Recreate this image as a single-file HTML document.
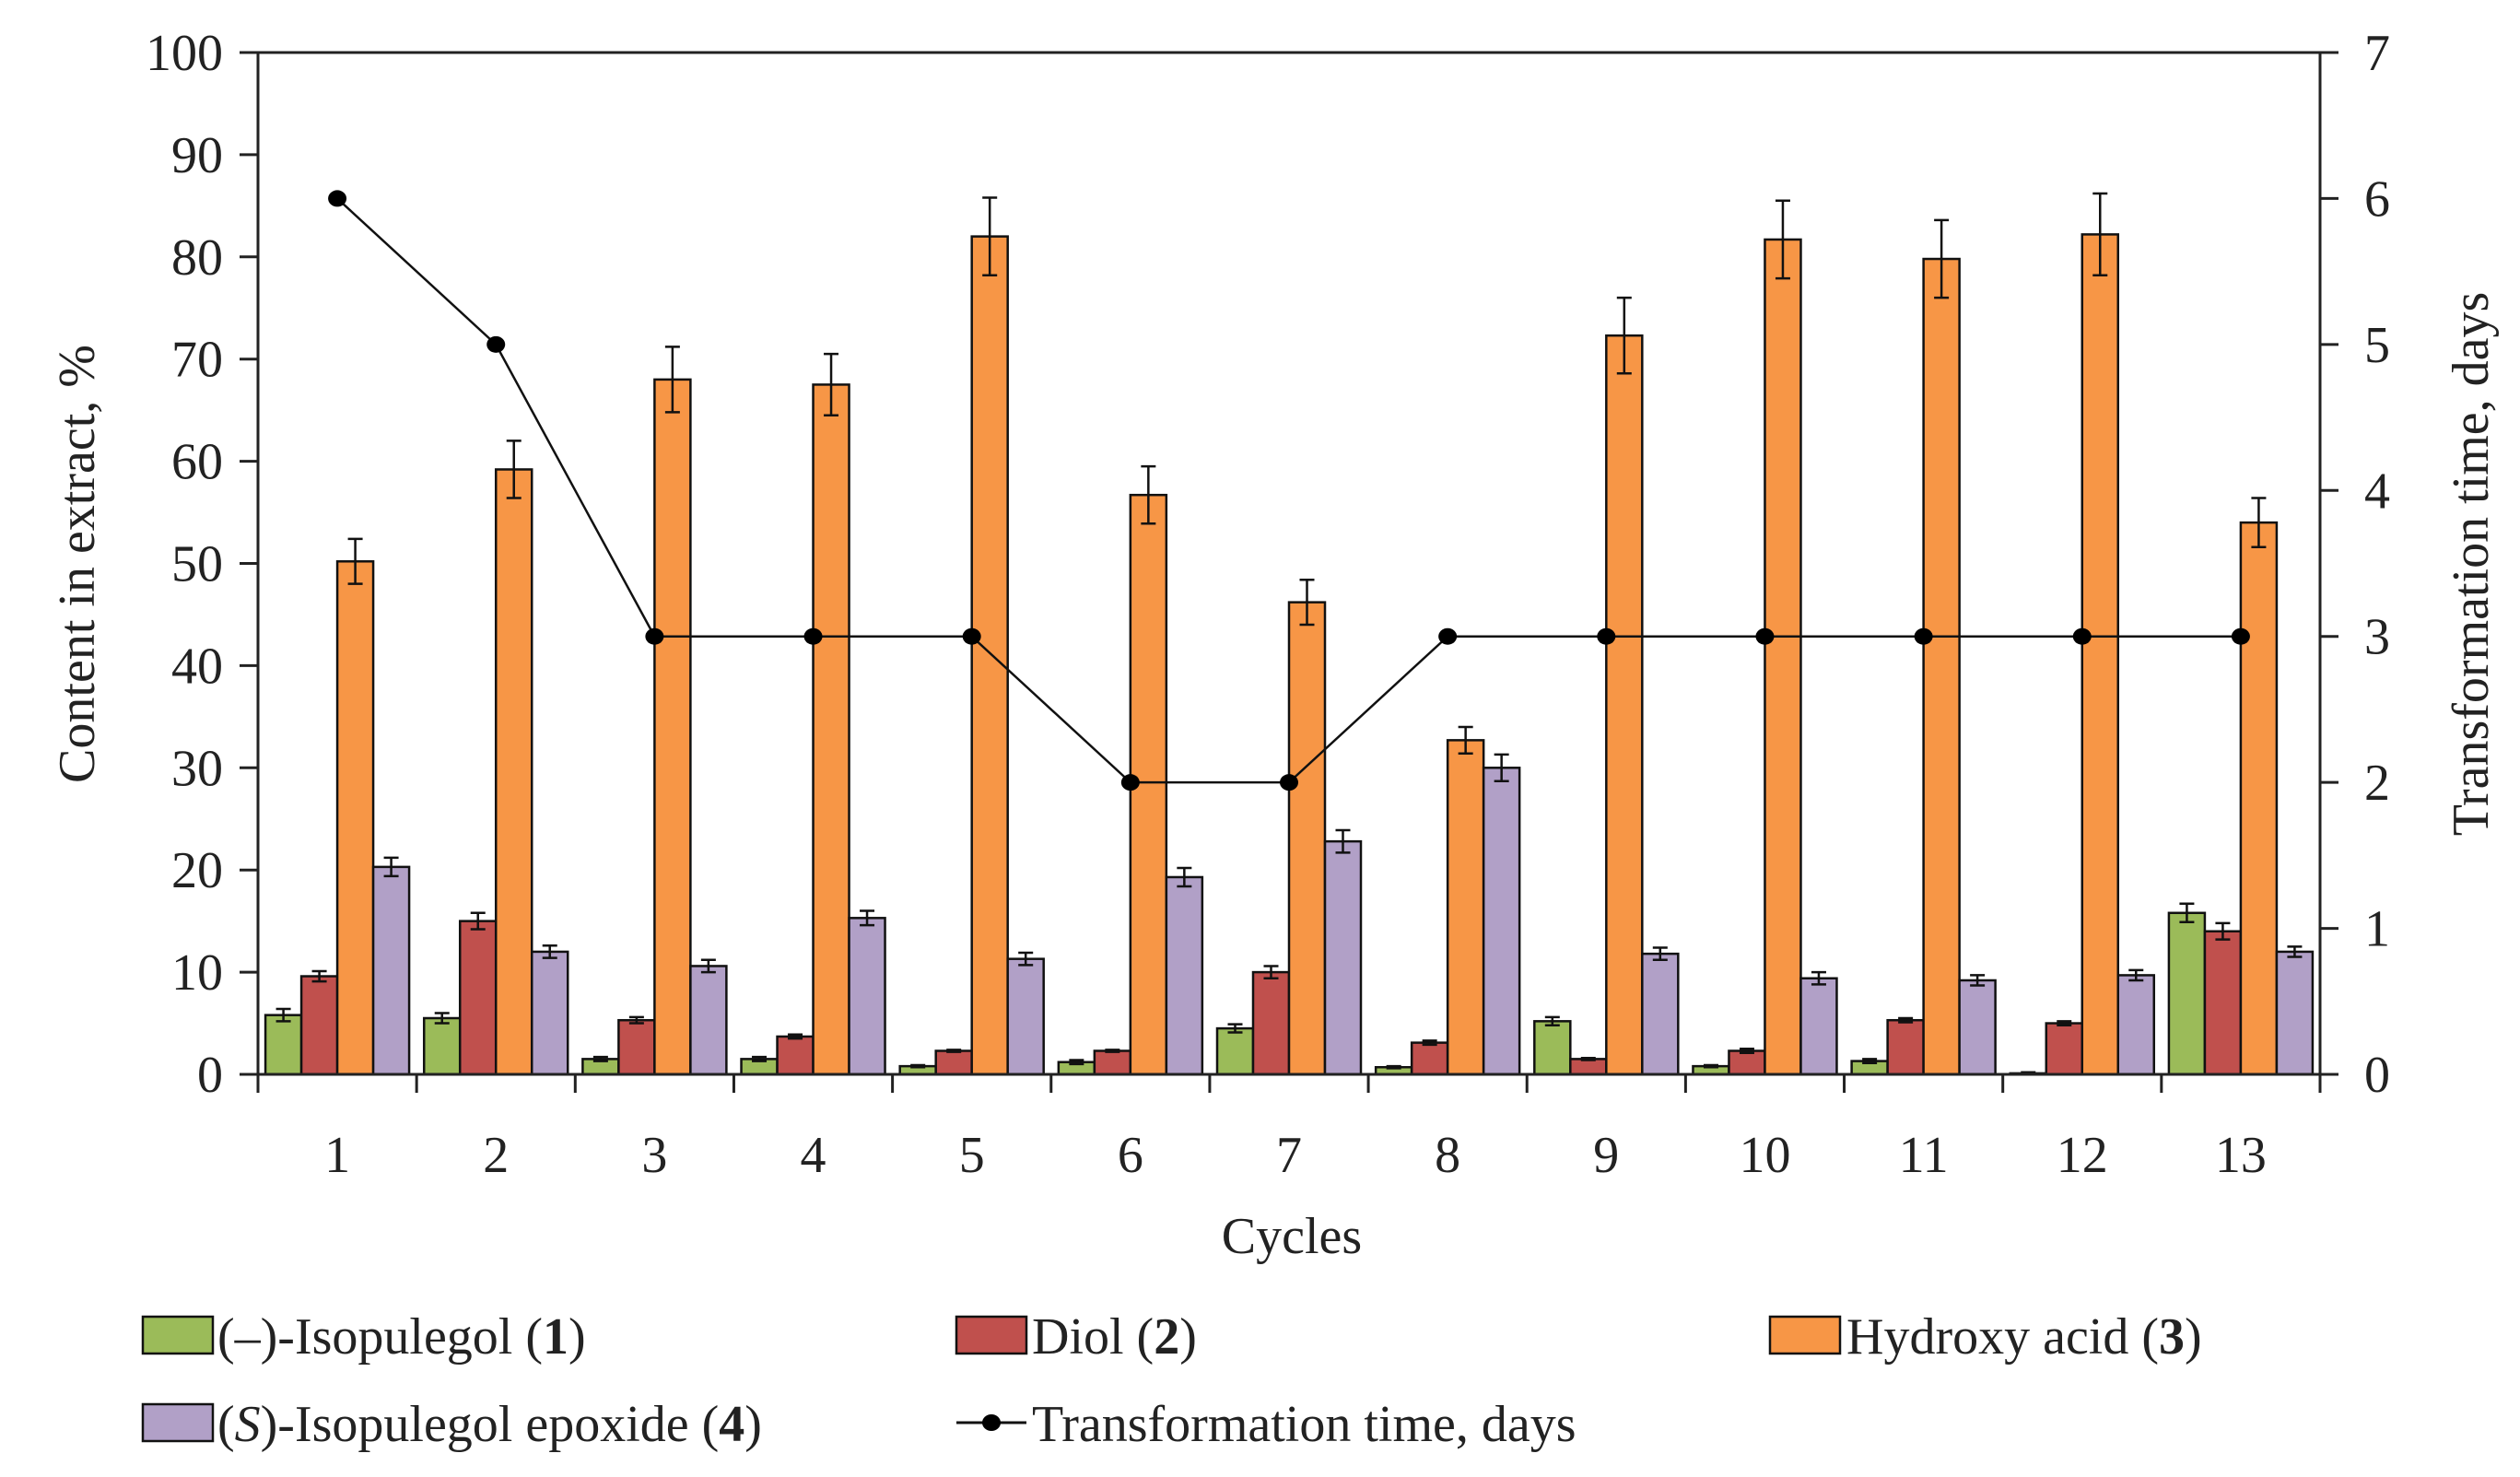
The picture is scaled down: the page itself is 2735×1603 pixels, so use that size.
<!DOCTYPE html>
<html><head><meta charset="utf-8"><style>
html,body{margin:0;padding:0;background:#fff}
svg{display:block;font-family:"Liberation Serif",serif}
</style></head><body>
<svg id="chart" width="2735" height="1603" viewBox="0 0 2735 1603" xmlns="http://www.w3.org/2000/svg">
<g id="plot"></g>
<g id="legend"></g>
</svg>
<script>
const categories = ["1","2","3","4","5","6","7","8","9","10","11","12","13"];
const isopulegol = [5.8,5.5,1.5,1.5,0.8,1.2,4.5,0.7,5.2,0.8,1.3,0.1,15.8];
const isopulegolErr = [0.6,0.5,0.2,0.2,0.1,0.2,0.4,0.1,0.4,0.1,0.2,0.1,0.9];
const diol = [9.6,15.0,5.3,3.7,2.3,2.3,10.0,3.1,1.5,2.3,5.3,5.0,14.0];
const diolErr = [0.5,0.8,0.3,0.2,0.1,0.1,0.6,0.2,0.1,0.2,0.2,0.2,0.8];
const hydroxy = [50.2,59.2,68.0,67.5,82.0,56.7,46.2,32.7,72.3,81.7,79.8,82.2,54.0];
const hydroxyErr = [2.2,2.8,3.2,3.0,3.8,2.8,2.2,1.3,3.7,3.8,3.8,4.0,2.4];
const epoxide = [20.3,12.0,10.6,15.3,11.3,19.3,22.8,30.0,11.8,9.4,9.2,9.7,12.0];
const epoxideErr = [0.9,0.6,0.6,0.7,0.6,0.9,1.1,1.3,0.6,0.6,0.5,0.5,0.5];
const transTime = [6,5,3,3,3,2,2,3,3,3,3,3,3];
const leftTicks = [0,10,20,30,40,50,60,70,80,90,100];
const rightTicks = [0,1,2,3,4,5,6,7];

const NS="http://www.w3.org/2000/svg";
const X0=280,X1=2518,Y0=1166,Y1=57;
const band=(X1-X0)/categories.length;
const yL=v=>Y0-(v/100)*(Y0-Y1);
const yR=v=>Y0-(v/7)*(Y0-Y1);
const xC=i=>X0+band*(i+0.5);
const plot=document.getElementById('plot');
const legend=document.getElementById('legend');
function mk(tag,attrs,parent,txt){const e=document.createElementNS(NS,tag);for(const k in attrs)e.setAttribute(k,attrs[k]);if(txt!==undefined)e.textContent=txt;parent.appendChild(e);return e;}

let e=mk('line',{x1:X0,y1:Y1,x2:X1,y2:Y1,stroke:'#222','stroke-width':3},plot);



const series=[
 {name:'isopulegol',vals:isopulegol,err:isopulegolErr,fill:'#9bbb59'},
 {name:'diol',vals:diol,err:diolErr,fill:'#c0504d'},
 {name:'hydroxy-acid',vals:hydroxy,err:hydroxyErr,fill:'#f79646'},
 {name:'epoxide',vals:epoxide,err:epoxideErr,fill:'#b1a0c7'}
];
const bw=39, gw=bw*4;
series.forEach((s,si)=>{
 s.vals.forEach((v,i)=>{
  const x=xC(i)-gw/2+si*bw;
  const r=mk('rect',{x:x,y:yL(v),width:bw,height:Y0-yL(v),fill:s.fill,stroke:'#111','stroke-width':2.5},plot);
  
  
  const cx=x+bw/2, t=yL(v+s.err[i]), b=yL(v-s.err[i]);
  const g=mk('path',{d:`M${cx},${t}V${b}M${cx-8},${t}H${cx+8}M${cx-8},${b}H${cx+8}`,stroke:'#111','stroke-width':2.5,fill:'none'},plot);
  
  
 });
});

const pts=transTime.map((v,i)=>xC(i)+','+yR(v)).join(' ');
e=mk('polyline',{points:pts,fill:'none',stroke:'#111','stroke-width':2.5},plot);


transTime.forEach((v,i)=>{
 const c=mk('ellipse',{cx:xC(i),cy:yR(v),rx:10,ry:9,fill:'#000'},plot);
 
 
});

e=mk('line',{x1:X0,y1:Y1,x2:X0,y2:Y0,stroke:'#222','stroke-width':3},plot);


e=mk('line',{x1:X1,y1:Y1,x2:X1,y2:Y0,stroke:'#222','stroke-width':3},plot);


e=mk('line',{x1:X0-20,y1:Y0,x2:X1+20,y2:Y0,stroke:'#222','stroke-width':3},plot);



leftTicks.forEach(t=>{
 const y=yL(t);
 const l=mk('line',{x1:X0-20,y1:y,x2:X0,y2:y,stroke:'#222','stroke-width':3},plot);
 
 
 const tx=mk('text',{x:X0-38,y:y+19,'font-size':56,'text-anchor':'end',fill:'#222'},plot,String(t));
 
 
});
rightTicks.forEach(t=>{
 const y=yR(t);
 const l=mk('line',{x1:X1,y1:y,x2:X1+20,y2:y,stroke:'#222','stroke-width':3},plot);
 
 
 const tx=mk('text',{x:X1+48,y:y+19,'font-size':56,'text-anchor':'start',fill:'#222'},plot,String(t));
 
 
});
for(let i=0;i<=categories.length;i++){
 const x=X0+band*i;
 const l=mk('line',{x1:x,y1:Y0,x2:x,y2:Y0+20,stroke:'#222','stroke-width':3},plot);
 
 
}
categories.forEach((c,i)=>{
 const tx=mk('text',{x:xC(i),y:1272,'font-size':56,'text-anchor':'middle',fill:'#222'},plot,c);
 
 
});

e=mk('text',{x:1402,y:1360,'font-size':56,'text-anchor':'middle',fill:'#222'},plot,'Cycles');


e=mk('text',{x:0,y:0,'font-size':56,'text-anchor':'middle',fill:'#222',transform:'translate(102,612) rotate(-90)'},plot,'Content in extract, %');


e=mk('text',{x:0,y:0,'font-size':56,'text-anchor':'middle',fill:'#222',transform:'translate(2700,612) rotate(-90)'},plot,'Transformation time, days');



function swatch(x,y,fill,name){
 const r=mk('rect',{x:x,y:y,width:76,height:40,fill:fill,stroke:'#111','stroke-width':2.5},legend);
 
 
}
function ltext(x,y,html,name){
 const t=mk('text',{x:x,y:y,'font-size':56,fill:'#222'},legend);
 t.innerHTML=html;
 
 
}
swatch(155,1429,'#9bbb59','legend-swatch-isopulegol');
ltext(236,1469,'(–)-Isopulegol (<tspan font-weight="bold">1</tspan>)','legend-label-isopulegol');
swatch(1038,1429,'#c0504d','legend-swatch-diol');
ltext(1120,1469,'Diol (<tspan font-weight="bold">2</tspan>)','legend-label-diol');
swatch(1921,1429,'#f79646','legend-swatch-hydroxy-acid');
ltext(2004,1469,'Hydroxy acid (<tspan font-weight="bold">3</tspan>)','legend-label-hydroxy-acid');
swatch(155,1524,'#b1a0c7','legend-swatch-epoxide');
ltext(236,1564,'(<tspan font-style="italic">S</tspan>)-Isopulegol epoxide (<tspan font-weight="bold">4</tspan>)','legend-label-epoxide');
e=mk('line',{x1:1038,y1:1544,x2:1114,y2:1544,stroke:'#111','stroke-width':3},legend);


e=mk('ellipse',{cx:1076,cy:1544,rx:10,ry:9,fill:'#000'},legend);


ltext(1120,1564,'Transformation time, days','legend-label-transformation-time');
</script>
</body></html>
